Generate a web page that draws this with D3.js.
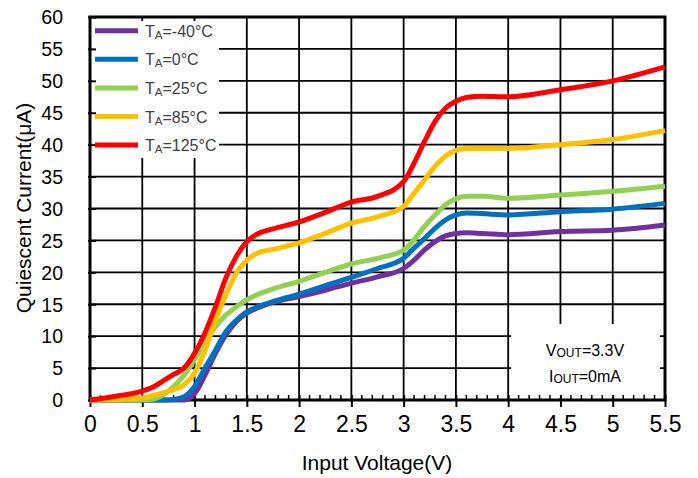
<!DOCTYPE html>
<html><head><meta charset="utf-8">
<script src="https://cdn.jsdelivr.net/npm/d3@7"></script>
<style>body{margin:0;background:#fff}svg{display:block;font-family:Arial,"Liberation Sans",sans-serif}</style>
</head><body>
<svg id="c" width="698" height="478"></svg>
<script>
// ---- data ----
const vin = [0,0.25,0.5,0.6,0.7,0.8,0.9,1.0,1.1,1.2,1.3,1.4,1.5,1.6,1.75,2.0,2.25,2.5,2.75,3.0,3.1,3.2,3.3,3.4,3.5,3.6,3.75,4.0,4.5,5.0,5.5];
const iqM40 = [0,0,0,0,0,0,0,1.0,3.9,7.3,10.2,12.3,13.6,14.4,15.3,16.2,17.2,18.3,19.3,20.6,21.9,23.5,24.8,25.7,26.1,26.2,26.1,25.9,26.4,26.6,27.4];
const iq0   = [0,0,0,0,0,0.1,0.5,2.1,5.0,7.8,10.7,12.5,13.8,14.6,15.4,16.6,17.9,19.2,20.6,22.2,23.8,25.3,26.9,28.2,29.0,29.3,29.2,29.0,29.5,29.9,30.8];
const iq25  = [0,0,0,0.1,0.8,2.1,3.9,6.3,9.1,11.5,13.3,14.6,15.7,16.5,17.4,18.6,20.0,21.3,22.2,23.5,25.1,27.2,29.0,30.6,31.5,31.9,31.9,31.6,32.1,32.7,33.5];
const iq85  = [0,0.1,0.3,0.7,1.1,1.6,2.4,4.2,7.8,12.5,16.5,19.9,21.9,23.0,23.6,24.6,26.1,27.7,28.7,30.3,32.4,34.5,36.6,38.2,39.1,39.4,39.4,39.4,40.0,40.8,42.2];
const iq125 = [0,0.6,1.4,2.0,3.0,4.0,5.0,7.3,10.5,14.6,19.1,22.5,24.8,26.0,26.8,27.9,29.4,31.0,31.9,34.2,37.1,40.5,43.6,45.7,46.8,47.4,47.6,47.5,48.6,50.0,52.2];
const seriesTemps = ["-40","0","25","85","125"];
const seriesColors = ["#7030A0","#0070C0","#92D050","#FFC000","#FF0000"];
const seriesValues = [iqM40, iq0, iq25, iq85, iq125];
const xTicks = [0,0.5,1,1.5,2,2.5,3,3.5,4,4.5,5,5.5];
const xTickLabels = ["0","0.5","1","1.5","2","2.5","3","3.5","4","4.5","5","5.5"];
const yTicks = [0,5,10,15,20,25,30,35,40,45,50,55,60];
const xTitle = "Input Voltage(V)";
const yTitle = "Quiescent Current(μA)";

// ---- drawing ----
const svg = d3.select("#c");
const x = d3.scaleLinear().domain([0,5.5]).range([90,665]);
const y = d3.scaleLinear().domain([0,60]).range([400,17]);

// gridlines
const g = svg.append("g");
g.selectAll("line.vx").data(xTicks.slice(1,-1)).join("line")
  .attr("x1",d=>x(d)).attr("x2",d=>x(d)).attr("y1",y(60)).attr("y2",y(0))
  .attr("stroke","#000").attr("stroke-width",1.8);
g.selectAll("line.hy").data(yTicks.slice(1,-1)).join("line")
  .attr("x1",x(0)).attr("x2",x(5.5)).attr("y1",d=>y(d)).attr("y2",d=>y(d))
  .attr("stroke","#000").attr("stroke-width",1.8);

// legend & annotation backgrounds
svg.append("rect").attr("x",92).attr("y",21).attr("width",127).attr("height",137).attr("fill","#fff");
svg.append("rect").attr("x",511).attr("y",324).attr("width",149).attr("height",74).attr("fill","#fff");

// axes ticks
const xAxis = d3.axisBottom(x).tickValues(xTicks).tickFormat((d,i)=>xTickLabels[i]).tickSize(7).tickSizeOuter(0);
const gx = svg.append("g").attr("transform",`translate(0,${y(0)})`).call(xAxis);
gx.select(".domain").remove();
gx.selectAll(".tick line").attr("y1",-5).attr("y2",7).attr("stroke","#000").attr("stroke-width",2);
gx.selectAll(".tick text").attr("y",16).attr("dy","0.71em").attr("font-size",23).attr("fill","#000").attr("font-family","Arial, 'Liberation Sans', sans-serif");
const minor = d3.range(0,56).map(i=>i/10).filter(v=>Math.abs(v*2-Math.round(v*2))>1e-6);
svg.append("g").selectAll("line").data(minor).join("line")
  .attr("x1",d=>x(d)).attr("x2",d=>x(d)).attr("y1",y(0)-5).attr("y2",y(0))
  .attr("stroke","#000").attr("stroke-width",1.5);

const yAxis = d3.axisLeft(y).tickValues(yTicks).tickSize(2).tickSizeOuter(0);
const gy = svg.append("g").attr("transform",`translate(${x(0)},0)`).call(yAxis);
gy.select(".domain").remove();
gy.selectAll(".tick line").attr("x1",-2).attr("x2",6).attr("stroke","#000").attr("stroke-width",2);
gy.selectAll(".tick text").attr("x",-27).attr("dy","0.35em").attr("font-size",19.5).attr("fill","#000").attr("font-family","Arial, 'Liberation Sans', sans-serif");

// frame
svg.append("rect").attr("x",x(0)).attr("y",y(60)).attr("width",x(5.5)-x(0)).attr("height",y(0)-y(60))
  .attr("fill","none").attr("stroke","#000").attr("stroke-width",3);

// series
const line = d3.line().x((d,i)=>x(vin[i])).y(d=>y(d)).curve(d3.curveMonotoneX);
seriesValues.forEach((vals,k)=>{
  svg.append("path").datum(vals).attr("d",line).attr("fill","none")
    .attr("stroke",seriesColors[k]).attr("stroke-width",5).attr("stroke-linejoin","round");
});

// legend
const lg = svg.append("g");
seriesTemps.forEach((t,k)=>{
  const ly = 30.7 + k*28.6;
  lg.append("line").attr("x1",95).attr("x2",138).attr("y1",ly).attr("y2",ly)
    .attr("stroke",seriesColors[k]).attr("stroke-width",5);
  const tx = lg.append("text").attr("x",145).attr("y",ly+6).attr("font-size",16).attr("fill","#404040");
  tx.append("tspan").text("T");
  tx.append("tspan").attr("font-size",11.5).attr("dy",2).text("A");
  tx.append("tspan").attr("dy",-2).text("=" + t + "°C");
});

// annotation
const a1 = svg.append("text").attr("x",585).attr("y",356).attr("text-anchor","middle").attr("font-size",16).attr("fill","#000");
a1.append("tspan").text("V"); a1.append("tspan").attr("font-size",12).attr("dy",1).text("OUT"); a1.append("tspan").attr("dy",-1).text("=3.3V");
const a2 = svg.append("text").attr("x",585).attr("y",382).attr("text-anchor","middle").attr("font-size",16).attr("fill","#000");
a2.append("tspan").text("I"); a2.append("tspan").attr("font-size",12).attr("dy",1).text("OUT"); a2.append("tspan").attr("dy",-1).text("=0mA");

// axis titles
svg.append("text").attr("x",377).attr("y",470).attr("text-anchor","middle").attr("font-size",21).attr("fill","#000").text(xTitle);
svg.append("text").attr("transform","translate(31,208) rotate(-90)").attr("text-anchor","middle").attr("font-size",21).attr("fill","#000").text(yTitle);
</script>
</body></html>
